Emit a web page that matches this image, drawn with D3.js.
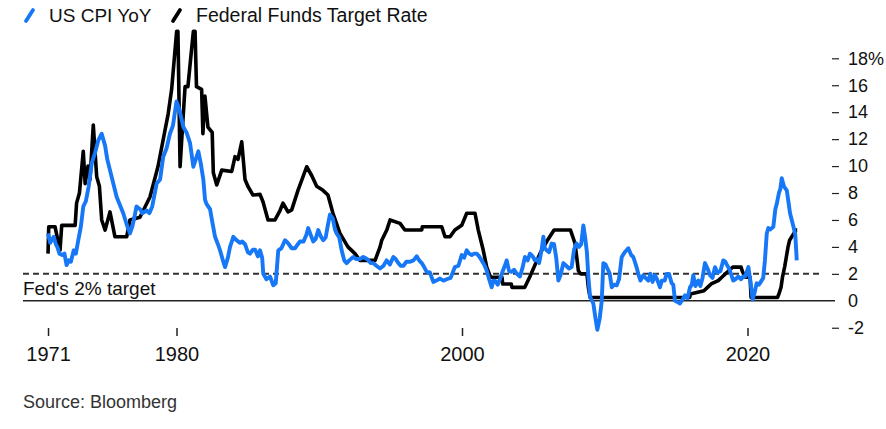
<!DOCTYPE html>
<html>
<head>
<meta charset="utf-8">
<script src="https://cdn.jsdelivr.net/npm/d3@7"></script>
<style>
  body { margin: 0; background: #fff; }
  svg { display: block; font-family: "Liberation Sans", Arial, sans-serif; }
</style>
</head>
<body>
<svg id="chart"></svg>
<script>
// US CPI YoY, % (year, value)
var cpi = [
  [1971.0,5.0],[1971.15,4.3],[1971.3,4.6],[1971.4,4.75],[1971.55,4.2],[1971.65,4.0],[1971.8,3.5],[1972.0,3.4],
  [1972.15,3.5],[1972.3,2.65],[1972.45,3.0],[1972.6,2.9],[1972.8,3.75],[1972.95,3.5],[1973.12,4.5],[1973.3,5.5],
  [1973.47,7.0],[1973.65,7.4],[1973.85,8.5],[1974.06,10.2],[1974.3,11.0],[1974.52,11.9],[1974.76,12.4],[1975.0,11.5],
  [1975.15,10.5],[1975.34,9.7],[1975.55,8.8],[1975.81,7.7],[1976.0,7.2],[1976.27,6.5],[1976.5,5.7],[1976.74,5.0],
  [1976.9,5.5],[1977.05,6.2],[1977.2,7.0],[1977.45,6.8],[1977.6,6.5],[1977.91,6.7],[1978.1,6.5],[1978.3,7.0],
  [1978.61,8.7],[1978.85,9.0],[1979.07,10.7],[1979.3,11.3],[1979.54,12.4],[1979.75,13.0],[1980.0,14.8],[1980.2,14.2],
  [1980.48,12.9],[1980.7,12.5],[1980.95,11.7],[1981.18,9.95],[1981.35,10.5],[1981.53,11.1],[1981.7,10.2],[1981.88,9.0],
  [1982.0,7.5],[1982.1,7.2],[1982.35,6.8],[1982.5,5.9],[1982.7,4.75],[1982.9,4.2],[1983.05,3.75],[1983.25,3.0],
  [1983.4,2.5],[1983.6,3.2],[1983.75,4.0],[1983.98,4.75],[1984.2,4.5],[1984.45,4.3],[1984.6,4.4],[1984.8,4.2],
  [1985.0,3.6],[1985.15,3.5],[1985.35,3.8],[1985.5,3.8],[1985.7,3.3],[1985.85,3.75],[1986.0,3.2],[1986.08,2.0],
  [1986.3,1.6],[1986.55,1.8],[1986.78,1.15],[1986.95,1.3],[1987.13,3.75],[1987.35,3.9],[1987.6,4.5],[1987.8,4.3],
  [1988.07,3.9],[1988.3,3.9],[1988.5,4.2],[1988.65,4.4],[1988.9,4.4],[1989.1,4.9],[1989.23,5.4],[1989.4,4.9],
  [1989.58,4.4],[1989.75,4.6],[1989.93,5.25],[1990.1,4.8],[1990.28,4.5],[1990.45,4.7],[1990.6,5.6],[1990.75,6.4],
  [1990.95,6.1],[1991.1,5.3],[1991.22,5.0],[1991.4,4.7],[1991.57,3.75],[1991.75,3.0],[1991.92,2.8],[1992.1,3.0],
  [1992.38,3.25],[1992.6,3.1],[1992.85,3.1],[1993.08,3.25],[1993.35,3.1],[1993.6,2.8],[1993.79,2.8],[1994.0,2.6],
  [1994.26,2.4],[1994.5,2.6],[1994.72,3.0],[1994.95,2.7],[1995.19,3.25],[1995.35,3.1],[1995.54,2.8],[1995.7,2.6],
  [1995.9,2.6],[1996.1,2.9],[1996.36,2.9],[1996.6,3.0],[1996.83,3.3],[1997.0,3.0],[1997.18,2.8],[1997.35,2.5],
  [1997.53,2.15],[1997.75,2.1],[1997.99,1.4],[1998.2,1.5],[1998.46,1.65],[1998.7,1.5],[1998.93,1.6],[1999.2,1.7],
  [1999.5,2.5],[1999.75,2.6],[1999.98,3.4],[2000.15,3.2],[2000.33,3.75],[2000.5,3.5],[2000.68,3.4],[2000.85,3.5],
  [2001.03,3.5],[2001.2,3.3],[2001.38,3.0],[2001.55,2.7],[2001.73,2.25],[2001.9,1.6],[2002.08,1.0],[2002.2,1.5],
  [2002.31,1.5],[2002.5,1.2],[2002.66,1.6],[2002.85,2.2],[2003.0,2.6],[2003.13,3.0],[2003.3,2.2],[2003.48,2.15],
  [2003.65,2.3],[2003.85,2.0],[2004.06,1.8],[2004.25,2.5],[2004.41,3.25],[2004.6,3.0],[2004.76,3.5],[2004.95,3.3],
  [2005.1,3.0],[2005.23,3.1],[2005.4,2.8],[2005.58,3.8],[2005.7,4.75],[2005.8,3.9],[2005.93,3.75],[2006.1,3.6],
  [2006.28,4.25],[2006.45,4.2],[2006.6,3.2],[2006.75,1.5],[2006.9,1.9],[2007.1,2.8],[2007.3,2.6],[2007.5,2.4],
  [2007.68,2.5],[2007.85,3.8],[2008.03,4.25],[2008.2,4.0],[2008.35,4.2],[2008.5,5.6],[2008.62,4.75],[2008.75,3.6],
  [2008.85,1.8],[2008.97,0.3],[2009.2,-0.2],[2009.35,-1.3],[2009.48,-2.15],[2009.65,-1.3],[2009.79,0.0],[2009.9,2.8],
  [2010.05,2.7],[2010.25,2.25],[2010.35,2.0],[2010.49,1.0],[2010.65,1.2],[2010.84,1.15],[2011.0,1.6],[2011.19,3.25],
  [2011.4,3.6],[2011.65,3.9],[2011.85,3.4],[2012.0,3.25],[2012.2,2.6],[2012.35,2.0],[2012.5,1.5],[2012.7,1.9],
  [2012.85,1.7],[2013.05,1.5],[2013.2,2.0],[2013.35,1.4],[2013.52,1.9],[2013.7,1.5],[2013.87,1.0],[2014.0,1.5],
  [2014.2,1.5],[2014.34,2.0],[2014.5,2.0],[2014.69,1.3],[2014.8,1.2],[2014.92,0.0],[2015.1,-0.1],[2015.27,-0.2],
  [2015.45,0.1],[2015.62,0.4],[2015.8,0.2],[2015.97,1.0],[2016.1,1.2],[2016.2,1.9],[2016.35,1.1],[2016.55,1.5],
  [2016.7,1.1],[2016.85,1.7],[2017.02,2.8],[2017.2,2.4],[2017.37,1.9],[2017.55,1.7],[2017.72,2.5],[2017.9,2.1],
  [2018.1,2.2],[2018.3,3.0],[2018.45,2.9],[2018.54,2.7],[2018.75,2.3],[2019.0,1.5],[2019.15,1.6],[2019.36,1.8],
  [2019.55,1.6],[2019.7,1.8],[2019.83,1.8],[2020.06,2.5],[2020.2,1.5],[2020.36,0.1],[2020.5,0.6],[2020.64,1.3],
  [2020.8,1.2],[2020.99,1.5],[2021.1,1.7],[2021.22,3.0],[2021.35,5.0],[2021.46,5.4],[2021.6,5.3],[2021.81,5.5],
  [2021.95,6.8],[2022.05,7.2],[2022.2,8.0],[2022.3,8.3],[2022.4,9.1],[2022.55,8.5],[2022.75,8.2],[2022.9,7.1],
  [2022.98,6.5],[2023.1,6.0],[2023.22,5.5],[2023.35,4.9],[2023.45,3.0]
];

// Federal Funds Target Rate, % (year, value)
var fed = [
  [1971.0,3.5],[1971.05,5.5],[1971.49,5.5],[1971.84,3.75],[1971.96,5.6],[1972.9,5.6],[1973.0,7.25],[1973.2,8.0],
  [1973.47,11.1],[1973.6,8.7],[1973.8,10.0],[1973.94,9.0],[1974.17,13.05],[1974.41,9.2],[1974.6,8.5],[1974.76,6.0],
  [1975.0,5.25],[1975.34,6.6],[1975.69,4.75],[1976.51,4.75],[1976.74,6.0],[1977.44,6.2],[1978.14,7.7],[1978.7,9.95],
  [1979.42,13.9],[1979.66,15.7],[1980.01,20.0],[1980.1,20.0],[1980.25,9.95],[1980.45,13.4],[1980.6,15.9],[1980.8,15.9],
  [1981.18,20.0],[1981.3,20.0],[1981.4,15.9],[1981.76,15.7],[1981.85,12.4],[1981.99,15.2],[1982.2,12.9],[1982.5,12.5],
  [1982.58,9.5],[1982.82,8.6],[1983.17,9.7],[1983.87,9.6],[1984.1,10.7],[1984.31,10.5],[1984.57,11.8],[1984.8,9.0],
  [1985.0,8.5],[1985.36,7.85],[1985.85,7.9],[1986.06,7.35],[1986.41,6.0],[1986.9,6.0],[1987.25,6.7],[1987.46,7.25],
  [1987.81,6.6],[1988.07,6.75],[1988.51,8.2],[1989.12,9.95],[1989.47,9.3],[1989.82,8.5],[1990.26,8.2],[1990.61,7.85],
  [1990.96,6.5],[1991.45,5.0],[1992.01,4.0],[1992.5,3.5],[1992.85,3.0],[1993.91,3.0],[1994.26,4.0],[1994.38,4.5],
  [1994.73,5.25],[1994.96,6.0],[1995.66,5.75],[1996.0,5.25],[1997.18,5.25],[1997.22,5.5],[1998.58,5.5],[1998.81,4.75],
  [1999.16,4.75],[1999.5,5.25],[1999.98,5.6],[2000.33,6.5],[2000.91,6.5],[2001.14,5.25],[2001.49,3.75],[2001.73,2.5],
  [2002.0,1.75],[2002.8,1.75],[2002.85,1.25],[2003.45,1.25],[2003.5,1.0],[2004.4,1.0],[2004.76,1.8],[2005.46,3.5],
  [2005.93,4.4],[2006.45,5.25],[2007.6,5.25],[2007.92,4.25],[2008.15,2.25],[2008.3,2.0],[2008.75,2.0],[2008.85,1.0],
  [2008.97,0.25],[2015.95,0.25],[2016.0,0.5],[2016.95,0.75],[2017.2,1.0],[2017.45,1.25],[2017.95,1.5],[2018.2,1.75],
  [2018.45,2.0],[2018.7,2.25],[2018.97,2.5],[2019.55,2.5],[2019.62,2.25],[2019.72,2.0],[2019.85,1.75],[2020.18,1.75],
  [2020.25,0.25],[2022.1,0.25],[2022.2,0.5],[2022.35,1.0],[2022.45,1.75],[2022.6,2.5],[2022.72,3.25],[2022.84,4.0],
  [2022.95,4.5],[2023.1,4.75],[2023.25,5.0],[2023.4,5.25],[2023.48,5.25]
];

var yTicks = [-2, 0, 2, 4, 6, 8, 10, 12, 14, 16, 18];
var xTicks = [1971, 1980, 2000, 2020];
var targetRate = 2;

var width = 886, height = 429;
var blue = "#1677f7";

var svg = d3.select("#chart")
    .attr("width", width)
    .attr("height", height);

var x = d3.scaleLinear().domain([2000, 2020]).range([462, 747.5]);
var y = d3.scaleLinear().domain([0, 18]).range([300.8, 58.3]);

// legend
var legend = svg.append("g").attr("transform", "translate(0,15)");
legend.append("line")
    .attr("x1", 26).attr("y1", 6).attr("x2", 33).attr("y2", -5)
    .attr("stroke", blue).attr("stroke-width", 3.8).attr("stroke-linecap", "round");
legend.append("text")
    .attr("x", 49).attr("y", 7)
    .attr("font-size", "19px").attr("fill", "#111")
    .text("US CPI YoY");
legend.append("line")
    .attr("x1", 173).attr("y1", 6).attr("x2", 180).attr("y2", -5)
    .attr("stroke", "#000").attr("stroke-width", 3.8).attr("stroke-linecap", "round");
legend.append("text")
    .attr("x", 196).attr("y", 7)
    .attr("font-size", "19.5px").attr("fill", "#111")
    .text("Federal Funds Target Rate");

// y axis on the right
var yAxis = svg.append("g")
    .attr("transform", "translate(832,0)")
    .call(d3.axisRight(y)
        .tickValues(yTicks)
        .tickSize(7)
        .tickPadding(9)
        .tickFormat(function(d) { return d === 18 ? "18%" : d; }));
yAxis.select(".domain").remove();
yAxis.selectAll(".tick line").attr("stroke", "#222").attr("stroke-width", 1.2)
    .filter(function(d) { return d === 0; }).remove();
yAxis.selectAll(".tick text")
    .attr("font-size", "18px").attr("fill", "#111")
    .attr("font-family", "Liberation Sans, Arial, sans-serif");

// x axis
var xAxis = svg.append("g")
    .attr("transform", "translate(0,328)")
    .call(d3.axisBottom(x)
        .tickValues(xTicks)
        .tickSize(8)
        .tickPadding(11)
        .tickFormat(d3.format("d")));
xAxis.select(".domain").remove();
xAxis.selectAll(".tick line").attr("stroke", "#222").attr("stroke-width", 1.5);
xAxis.selectAll(".tick text")
    .attr("font-size", "20px").attr("fill", "#111")
    .attr("font-family", "Liberation Sans, Arial, sans-serif");

// zero line and 2% target
svg.append("line")
    .attr("x1", 23).attr("x2", 835)
    .attr("y1", y(0)).attr("y2", y(0))
    .attr("stroke", "#222").attr("stroke-width", 1.5);
svg.append("line")
    .attr("x1", 23).attr("x2", 822)
    .attr("y1", y(targetRate)).attr("y2", y(targetRate))
    .attr("stroke", "#333").attr("stroke-width", 2)
    .attr("stroke-dasharray", "6,4");
svg.append("text")
    .attr("x", 23).attr("y", y(targetRate) + 21)
    .attr("font-size", "19px").attr("fill", "#111")
    .text("Fed's 2% target");

var line = d3.line()
    .x(function(d) { return x(d[0]); })
    .y(function(d) { return y(d[1]); });

svg.append("path")
    .datum(fed)
    .attr("d", line)
    .attr("fill", "none")
    .attr("stroke", "#000")
    .attr("stroke-width", 3.6)
    .attr("stroke-linejoin", "round");

svg.append("path")
    .datum(cpi)
    .attr("d", line)
    .attr("fill", "none")
    .attr("stroke", blue)
    .attr("stroke-width", 3.9)
    .attr("stroke-linejoin", "round");

// source
svg.append("text")
    .attr("x", 23).attr("y", 408)
    .attr("font-size", "18px").attr("fill", "#333")
    .text("Source: Bloomberg");
</script>
</body>
</html>
